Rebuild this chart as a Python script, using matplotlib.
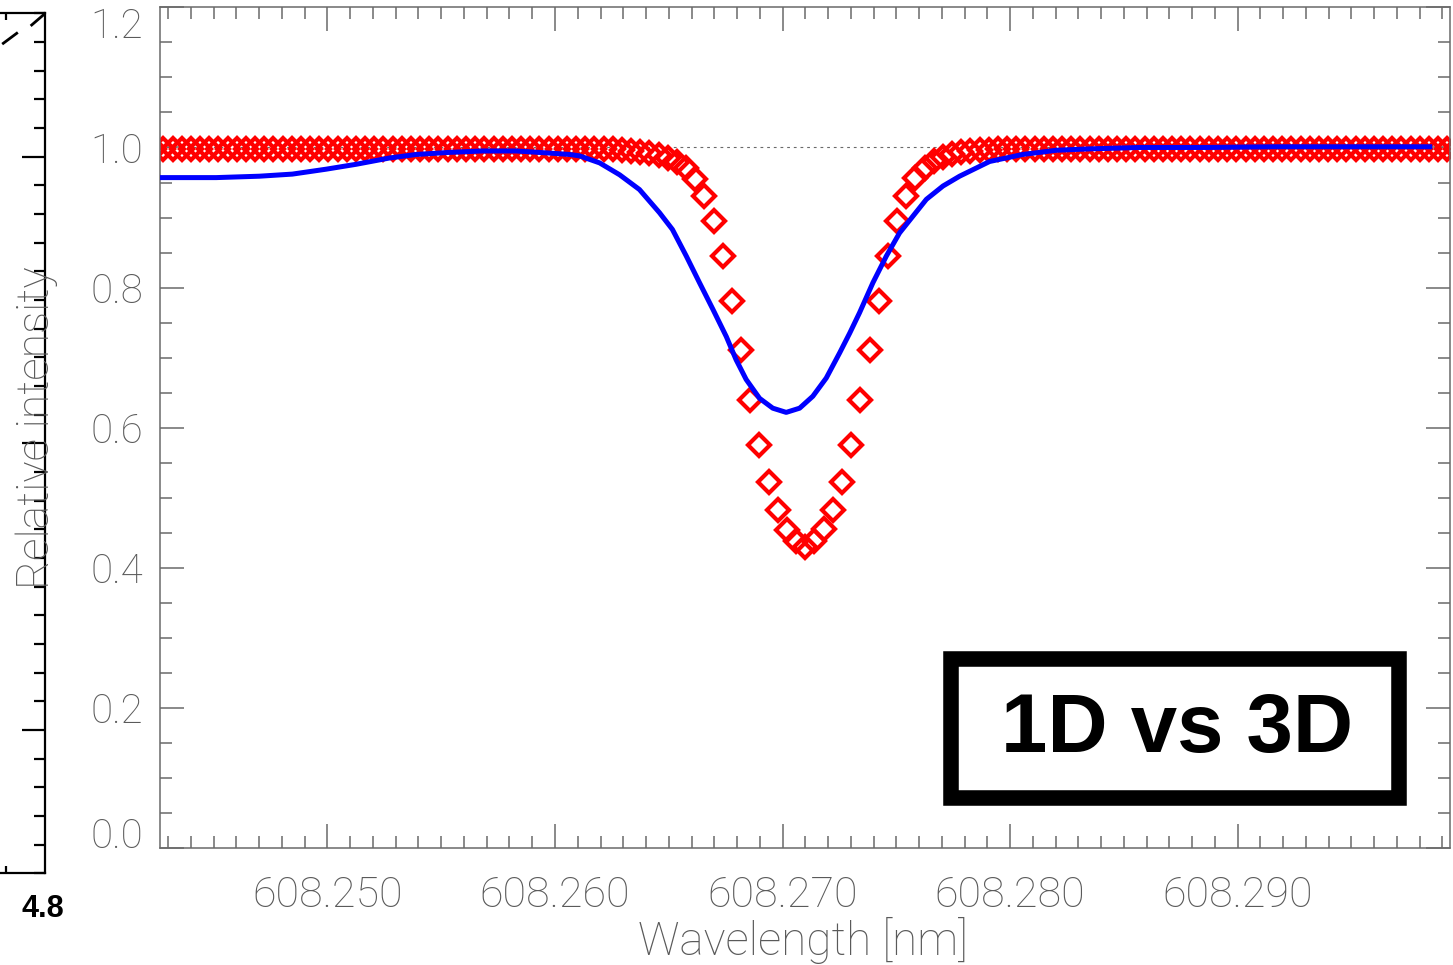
import numpy as np
import matplotlib
matplotlib.use("Agg")
import matplotlib.pyplot as plt
from matplotlib.patches import Rectangle
from matplotlib.lines import Line2D
from matplotlib.ticker import MultipleLocator, FormatStrFormatter

# 1D model (blue line)
blue_wl = [608.24262, 608.24511, 608.24701, 608.24846, 608.24994, 608.25126, 608.25273,
           608.25390, 608.25536, 608.25681, 608.25829, 608.25976, 608.26064, 608.26108,
           608.26196, 608.26284, 608.26371, 608.26459, 608.26516, 608.26577, 608.26635,
           608.26694, 608.26753, 608.26796, 608.26840, 608.26899, 608.26957, 608.27016,
           608.27075, 608.27133, 608.27192, 608.27251, 608.27295, 608.27338, 608.27397,
           608.27456, 608.27514, 608.27573, 608.27632, 608.27705, 608.27778, 608.27910,
           608.28055, 608.28203, 608.28349, 608.28569, 608.28862, 608.29154, 608.29448,
           608.29844]
blue_int = [0.957, 0.957, 0.959, 0.962, 0.969, 0.976, 0.985, 0.990, 0.993, 0.995,
            0.995, 0.992, 0.990, 0.988, 0.978, 0.961, 0.940, 0.907, 0.883, 0.845,
            0.807, 0.769, 0.730, 0.697, 0.669, 0.642, 0.628, 0.622, 0.628, 0.645,
            0.671, 0.707, 0.735, 0.764, 0.807, 0.845, 0.878, 0.902, 0.926, 0.945,
            0.959, 0.980, 0.990, 0.996, 0.998, 1.000, 1.000, 1.001, 1.001, 1.001]

# 3D model (red diamonds) on a regular wavelength grid
red_wl0 = 608.242387
red_dwl = 0.000403
red_wing_left = [0.998, 0.998, 0.998, 0.998, 0.998, 0.998, 0.998, 0.998, 0.998, 0.998,
                 0.998, 0.998, 0.998, 0.998, 0.998, 0.998, 0.998, 0.998, 0.998, 0.998,
                 0.998, 0.998, 0.998, 0.998, 0.998, 0.998, 0.998, 0.998, 0.998, 0.998,
                 0.998, 0.998, 0.998, 0.998, 0.998, 0.998, 0.998, 0.998, 0.998, 0.998,
                 0.998, 0.998, 0.998, 0.998, 0.998, 0.998, 0.998, 0.998, 0.998, 0.998,
                 0.998, 0.996, 0.995, 0.994, 0.992, 0.989, 0.985, 0.979]
red_core = [0.971, 0.955, 0.931, 0.895, 0.845, 0.781, 0.711, 0.640, 0.576, 0.523,
            0.483, 0.454, 0.438, 0.430, 0.439, 0.455, 0.483, 0.523, 0.576, 0.640,
            0.711, 0.781, 0.845, 0.895, 0.931, 0.957, 0.971]
red_wing_right = [0.981, 0.987, 0.991, 0.993, 0.995, 0.996, 0.997,
                  0.998, 0.998, 0.998, 0.998, 0.998, 0.998, 0.998, 0.998, 0.998, 0.998,
                  0.998, 0.998, 0.998, 0.998, 0.998, 0.998, 0.998, 0.998, 0.998, 0.998,
                  0.998, 0.998, 0.998, 0.998, 0.998, 0.998, 0.998, 0.998, 0.998, 0.998,
                  0.998, 0.998, 0.998, 0.998, 0.998, 0.998, 0.998, 0.998, 0.998, 0.998,
                  0.998, 0.998, 0.998, 0.998, 0.998, 0.998, 0.998, 0.998, 0.998, 0.998,
                  0.998]
red_int = red_wing_left + red_core + red_wing_right
red_wl = red_wl0 + red_dwl * np.arange(len(red_int))

xticks = [608.250, 608.260, 608.270, 608.280, 608.290]
yticks = [0.0, 0.2, 0.4, 0.6, 0.8, 1.0, 1.2]

W, H = 1453, 965
grey = "#6a6a6a"
txtgrey = "#5a5a5a"
thin = ["Roboto", "DejaVu Sans"]

fig = plt.figure(figsize=(W / 100, H / 100), dpi=100)

ax = fig.add_axes([159.5 / W, (H - 848.3) / H, (1450 - 159.5) / W, (848.3 - 7.3) / H])
ax.set_xlim(608.24262, 608.29933)
ax.set_ylim(0, 1.2)

ax.axhline(1.0, color=grey, lw=0.8, ls=(0, (2.5, 3.5)), zorder=1)
ax.plot(red_wl, red_int, ls="none", marker="D", ms=10.8, mfc="none", mec="red", mew=3.0,
        zorder=2)
ax.plot(blue_wl, blue_int, color="blue", lw=3.6, zorder=3, solid_joinstyle="round")

ax.set_xticks(xticks)
ax.set_yticks(yticks)
ax.xaxis.set_minor_locator(MultipleLocator(0.001))
ax.yaxis.set_minor_locator(MultipleLocator(0.05))
ax.xaxis.set_major_formatter(FormatStrFormatter("%.3f"))
ax.yaxis.set_major_formatter(FormatStrFormatter("%.1f"))
ax.tick_params(which="both", direction="in", top=True, right=True, color=grey, width=1.1)
ax.tick_params(which="major", length=17)
ax.tick_params(which="minor", length=8.5)
ax.tick_params(axis="x", which="major", pad=19)
ax.tick_params(axis="y", which="major", pad=12)
for lab in ax.get_xticklabels():
    lab.set_fontfamily(thin)
    lab.set_fontweight("light")
    lab.set_fontsize(31)
    lab.set_color(txtgrey)
for lab in ax.get_yticklabels():
    lab.set_fontfamily(thin)
    lab.set_fontweight("light")
    lab.set_fontsize(29)
    lab.set_color(txtgrey)
# IDL keeps the end labels inside the axis range
ymaj = ax.yaxis.get_major_ticks()
ymaj[0].label1.set_va("baseline")
ymaj[-1].label1.set_va("top")
for sp in ax.spines.values():
    sp.set_color(grey)
    sp.set_linewidth(1.1)

fig.text(803 / W, 1 - 940 / H, "Wavelength [nm]", ha="center", va="center",
         fontsize=33, color=txtgrey, family=thin, fontweight="light")
fig.text(37 / W, 1 - 428 / H, "Relative intensity", ha="center", va="center",
         rotation=90, fontsize=32, color=txtgrey, zorder=5, family=thin, fontweight="light")

# label box
fig.add_artist(Rectangle((951.5 / W, 1 - 798 / H), (1399 - 951.5) / W, (798 - 659) / H,
                         transform=fig.transFigure, fill=False, ec="black", lw=11.2,
                         joinstyle="miter"))
fig.text(1177.5 / W, 1 - 730 / H, "1D vs 3D", ha="center", va="center", fontsize=60,
         fontweight="bold", family=["Liberation Sans", "DejaVu Sans"])

# remnant of the neighbouring panel on the left
axl = fig.add_axes([0, (H - 873.3) / H, 44.5 / W, (873.3 - 13.3) / H])
axl.patch.set_visible(False)
axl.set_xlim(0, 44.5)
axl.set_ylim(0, 30)
axl.spines["left"].set_visible(False)
for s in ("right", "top", "bottom"):
    axl.spines[s].set_linewidth(1.6)
axl.yaxis.tick_right()
axl.set_yticks([5, 15, 25])
axl.set_yticks(range(31), minor=True)
axl.set_xticks([])
axl.set_xticks([6], minor=True)
axl.tick_params(which="both", direction="in", labelright=False, labelbottom=False,
                width=1.6, top=True, bottom=True)
axl.tick_params(axis="y", which="major", length=16.5)
axl.tick_params(axis="y", which="minor", length=8)
axl.tick_params(axis="x", which="minor", length=5)
fig.add_artist(Line2D([3.3 / W, 16.7 / W], [1 - 43.3 / H, 1 - 33.3 / H], color="black", lw=2))
fig.add_artist(Line2D([31.7 / W, 43.3 / W], [1 - 25 / H, 1 - 15 / H], color="black", lw=2))
fig.text(43 / W, 1 - 909 / H, "4.8", ha="center", va="center", fontsize=22,
         fontweight="bold", family=["Liberation Sans", "DejaVu Sans"])

fig.savefig("out.png", dpi=100)
